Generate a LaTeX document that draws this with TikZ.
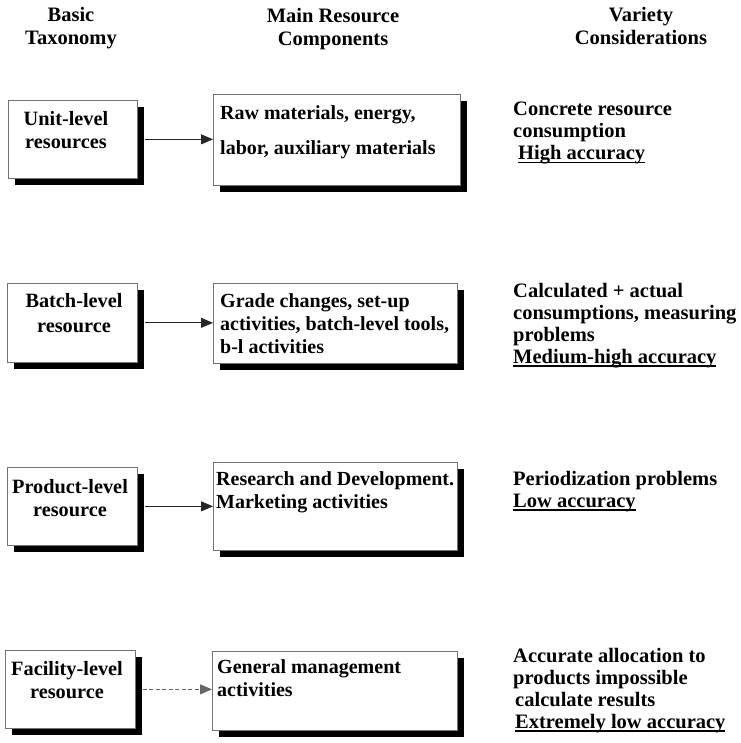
\documentclass[tikz,border=0pt]{standalone}
\usepackage{fontspec}
\setmainfont{Liberation Serif}
\usetikzlibrary{arrows.meta,shadows}
\newcommand\myul[1]{\setbox0\hbox{#1}\rlap{\rule[-3.5pt]{\wd0}{1.3pt}}\box0}
\newcommand\tabc[1]{\begin{tabular}[t]{@{}c@{}}#1\end{tabular}}
\newcommand\tabl[1]{\begin{tabular}[t]{@{}l@{}}#1\end{tabular}}
\begin{document}
\begin{tikzpicture}[x=1pt,y=-1pt,
  box/.style={draw=black!55, line width=0.7pt, fill=white, anchor=north west, inner sep=0pt,
    drop shadow={shadow xshift=7pt, shadow yshift=-7pt, opacity=1, fill=black}},
  hdr/.style={anchor=base, inner sep=0pt, font=\fontsize{20.5}{23}\selectfont\bfseries},
  ctext/.style={anchor=base, inner sep=0pt, font=\fontsize{20.3}{23}\selectfont\bfseries},
  ltext/.style={anchor=base west, inner sep=0pt, font=\fontsize{20}{23}\selectfont\bfseries},
  vtext/.style={anchor=base west, inner sep=0pt, font=\fontsize{20.5}{22}\selectfont\bfseries},
  arr/.style={line width=0.8pt, draw=black!85, -{Triangle[length=12pt,width=10pt]}},
  darr/.style={arr, dash pattern=on 4pt off 2.5pt, draw=black!60}]
\useasboundingbox (0,0) rectangle (740,743);
\fill[white] (0,0) rectangle (740,743);

% headers
\node[hdr] (h1) at (71,22) {\tabc{Basic\\Taxonomy}};
\node[hdr] (h2) at (333,23) {\tabc{Main Resource\\Components}};
\node[hdr] (h3) at (641,22) {\tabc{Variety\\Considerations}};

% boxes
\node[box, minimum width=129pt, minimum height=78pt] (L1) at (8,100) {};
\node[box, minimum width=247pt, minimum height=91pt] (R1) at (213,94) {};
\node[box, minimum width=130pt, minimum height=79pt] (L2) at (7,283) {};
\node[box, minimum width=244pt, minimum height=80pt] (R2) at (213,283) {};
\node[box, minimum width=130pt, minimum height=78pt] (L3) at (7,467) {};
\node[box, minimum width=244pt, minimum height=88pt] (R3) at (213,462) {};
\node[box, minimum width=130pt, minimum height=78pt] (L4) at (5,650) {};
\node[box, minimum width=245pt, minimum height=79pt] (R4) at (212,651) {};

% box texts
\node[ctext] (t1) at (66,126) {\tabc{Unit-level\\resources}};
\node[ctext] (t2) at (74,307) {\tabc{Batch-level\\[2pt]resource}};
\node[ctext] (t3) at (70,493) {\tabc{Product-level\\resource}};
\node[ctext] (t4) at (67,675) {\tabc{Facility-level\\resource}};

\node[ltext] (c1) at (220,120) {\tabl{Raw materials, energy,\\[12pt]labor, auxiliary materials}};
\node[ltext] (c2) at (220,307) {\tabl{Grade changes, set-up\\activities, batch-level tools,\\b-l activities}};
\node[ltext] (c3) at (216,485) {\tabl{Research and Development.\\Marketing activities}};
\node[ltext] (c4) at (217,673) {\tabl{General management\\activities}};

% arrows
\draw[arr] ([xshift=7pt]L1.east) -- (L1.east -| R1.west);
\draw[arr] ([xshift=7pt]L2.east) -- (L2.east -| R2.west);
\draw[arr] ([xshift=7pt]L3.east) -- (L3.east -| R3.west);
\draw[darr] ([xshift=7pt]L4.east) -- (L4.east -| R4.west);

% variety considerations
\node[vtext] (v1) at (513,116) {\tabl{Concrete resource\\consumption\\\hspace{5pt}\myul{High accuracy}}};
\node[vtext] (v2) at (513,297) {\tabl{Calculated + actual\\consumptions, measuring\\problems\\\myul{Medium-high accuracy}}};
\node[vtext] (v3) at (513,485) {\tabl{Periodization problems\\\myul{Low accuracy}}};
\node[vtext] (v4) at (513,662) {\tabl{Accurate allocation to\\products impossible\\\hspace{2pt}calculate results\\\hspace{2pt}\myul{Extremely low accuracy}}};
\end{tikzpicture}
\end{document}
